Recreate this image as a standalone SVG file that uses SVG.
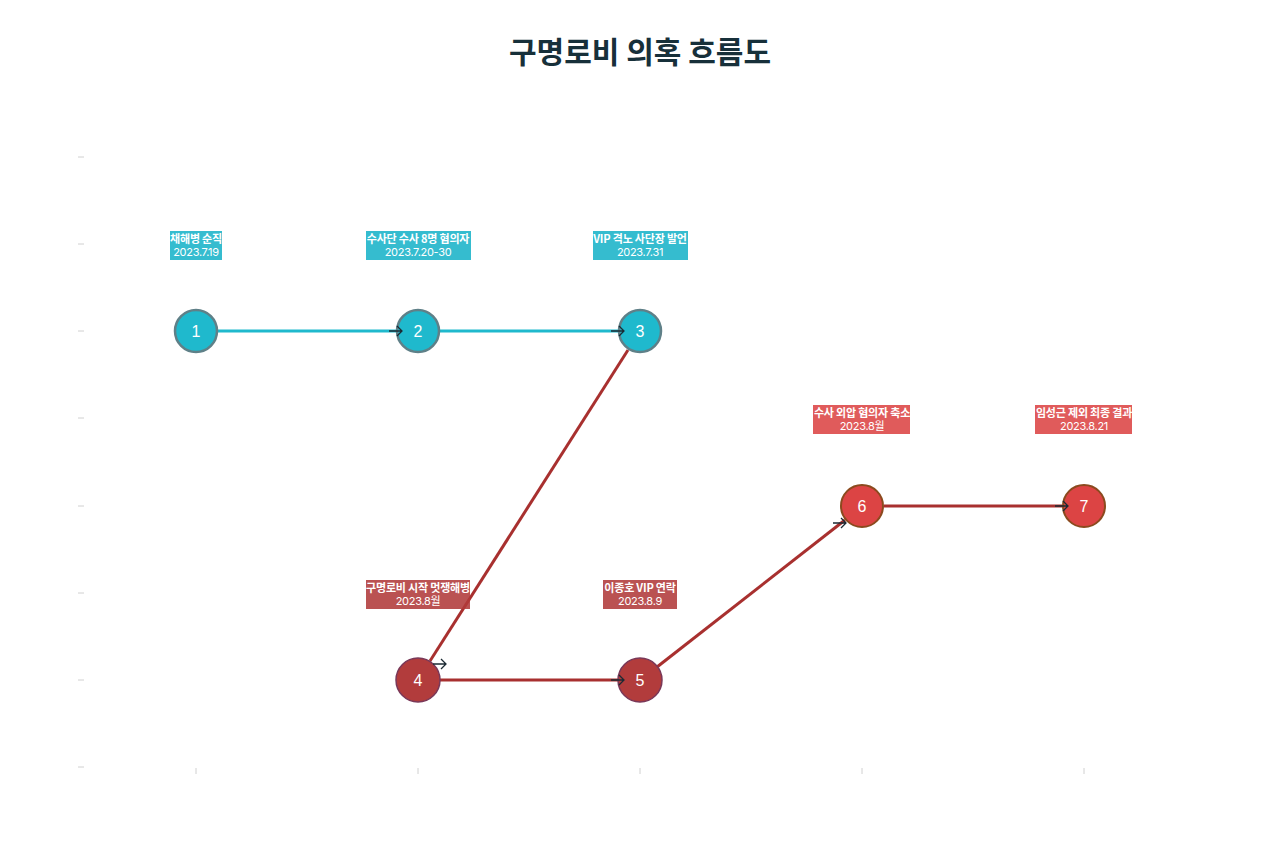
<svg xmlns="http://www.w3.org/2000/svg" width="1280" height="853" viewBox="0 0 1280 853">
<style>
.title{font-family:"Noto Sans CJK KR","Noto Sans",sans-serif;font-size:30px;font-weight:700;fill:#17303a}
.lbl1{font-family:"Noto Sans CJK KR","Liberation Sans",sans-serif;font-size:11px;font-weight:700;fill:#fff;letter-spacing:-0.2px}
.lbl2{font-family:"Inter","Noto Sans CJK KR",sans-serif;font-size:11px;fill:#fff;letter-spacing:-0.3px}
.num{font-family:"Liberation Sans",sans-serif;font-size:16px;fill:#fff}
.tick{stroke:#d0d0d0;stroke-width:1}
.nt circle{fill:#1fb9cd;stroke:#5f8088;stroke-width:2.5}
.nd circle{fill:#b23c3c;stroke:#7a3858;stroke-width:1.5}
.nr circle{fill:#dc4444;stroke:#8b4a1e;stroke-width:2}
.bt{fill:#1fb5ca;fill-opacity:0.9}
.bd{fill:#b03a3a;fill-opacity:0.88}
.br{fill:#dc4444;fill-opacity:0.88}
.et{stroke:#1fb9cd;stroke-width:3;fill:none}
.er{stroke:#a8302f;stroke-width:3;fill:none}
.ar{stroke:#1b2a33;stroke-width:1.3;fill:none}
</style>
<rect width="1280" height="853" fill="#fff"/>
<text class="title" x="640" y="63" text-anchor="middle">구명로비 의혹 흐름도</text>
<g id="axes">
<line class="tick" x1="78" y1="157" x2="84" y2="157"/>
<line class="tick" x1="78" y1="244" x2="84" y2="244"/>
<line class="tick" x1="78" y1="331" x2="84" y2="331"/>
<line class="tick" x1="78" y1="418" x2="84" y2="418"/>
<line class="tick" x1="78" y1="506" x2="84" y2="506"/>
<line class="tick" x1="78" y1="593" x2="84" y2="593"/>
<line class="tick" x1="78" y1="680" x2="84" y2="680"/>
<line class="tick" x1="78" y1="767" x2="84" y2="767"/>
<line class="tick" x1="196" y1="768" x2="196" y2="774"/>
<line class="tick" x1="418" y1="768" x2="418" y2="774"/>
<line class="tick" x1="640" y1="768" x2="640" y2="774"/>
<line class="tick" x1="862" y1="768" x2="862" y2="774"/>
<line class="tick" x1="1084" y1="768" x2="1084" y2="774"/>
</g>
<g id="connectors">
<line class="et" x1="218" y1="331" x2="396" y2="331"/>
<line class="et" x1="440" y1="331" x2="618" y2="331"/>
<line class="er" x1="628" y1="350" x2="430" y2="661"/>
<line class="er" x1="440" y1="680" x2="618" y2="680"/>
<line class="er" x1="657" y1="667" x2="845" y2="520"/>
<line class="er" x1="884" y1="506" x2="1062" y2="506"/>
</g>
<g id="node1" class="nt">
<circle cx="196" cy="331" r="21"/>
<text class="num" x="196" y="337" text-anchor="middle">1</text>
<rect class="bt" x="170" y="231" width="52" height="29"/>
<text class="lbl1" x="196" y="243" text-anchor="middle">채해병 순직</text>
<text class="lbl2" x="196" y="256" text-anchor="middle">2023.7.19</text>
</g>
<g id="node2" class="nt">
<circle cx="418" cy="331" r="21"/>
<text class="num" x="418" y="337" text-anchor="middle">2</text>
<rect class="bt" x="366" y="231" width="105" height="29"/>
<text class="lbl1" x="418" y="243" text-anchor="middle">수사단 수사 8명 혐의자</text>
<text class="lbl2" x="418" y="256" text-anchor="middle">2023.7.20-30</text>
</g>
<g id="node3" class="nt">
<circle cx="640" cy="331" r="21"/>
<text class="num" x="640" y="337" text-anchor="middle">3</text>
<rect class="bt" x="593" y="231" width="95" height="29"/>
<text class="lbl1" x="640" y="243" text-anchor="middle">VIP 격노 사단장 발언</text>
<text class="lbl2" x="640" y="256" text-anchor="middle">2023.7.31</text>
</g>
<g id="node4" class="nd">
<circle cx="418" cy="680" r="22"/>
<text class="num" x="418" y="686" text-anchor="middle">4</text>
<rect class="bd" x="366" y="580" width="104" height="29"/>
<text class="lbl1" x="418" y="592" text-anchor="middle">구명로비 시작 멋쟁해병</text>
<text class="lbl2" x="418" y="605" text-anchor="middle">2023.8월</text>
</g>
<g id="node5" class="nd">
<circle cx="640" cy="680" r="22"/>
<text class="num" x="640" y="686" text-anchor="middle">5</text>
<rect class="bd" x="603" y="580" width="74" height="29"/>
<text class="lbl1" x="640" y="592" text-anchor="middle">이종호 VIP 연락</text>
<text class="lbl2" x="640" y="605" text-anchor="middle">2023.8.9</text>
</g>
<g id="node6" class="nr">
<circle cx="862" cy="506" r="21"/>
<text class="num" x="862" y="512" text-anchor="middle">6</text>
<rect class="br" x="813" y="405" width="97" height="29"/>
<text class="lbl1" x="862" y="417" text-anchor="middle">수사 외압 혐의자 축소</text>
<text class="lbl2" x="862" y="430" text-anchor="middle">2023.8월</text>
</g>
<g id="node7" class="nr">
<circle cx="1084" cy="506" r="21"/>
<text class="num" x="1084" y="512" text-anchor="middle">7</text>
<rect class="br" x="1035" y="405" width="97" height="29"/>
<text class="lbl1" x="1084" y="417" text-anchor="middle">임성근 제외 최종 결과</text>
<text class="lbl2" x="1084" y="430" text-anchor="middle">2023.8.21</text>
</g>
<g id="arrowheads">
<path class="ar" d="M389 331H402M397 326L402 331L397 336"/>
<path class="ar" d="M611 331H624M619 326L624 331L619 336"/>
<path class="ar" d="M433 664H446M441 659L446 664L441 669"/>
<path class="ar" d="M611 680H624M619 675L624 680L619 685"/>
<path class="ar" d="M833 523H846M841 518L846 523L841 528"/>
<path class="ar" d="M1055 506H1068M1063 501L1068 506L1063 511"/>
</g>
</svg>
